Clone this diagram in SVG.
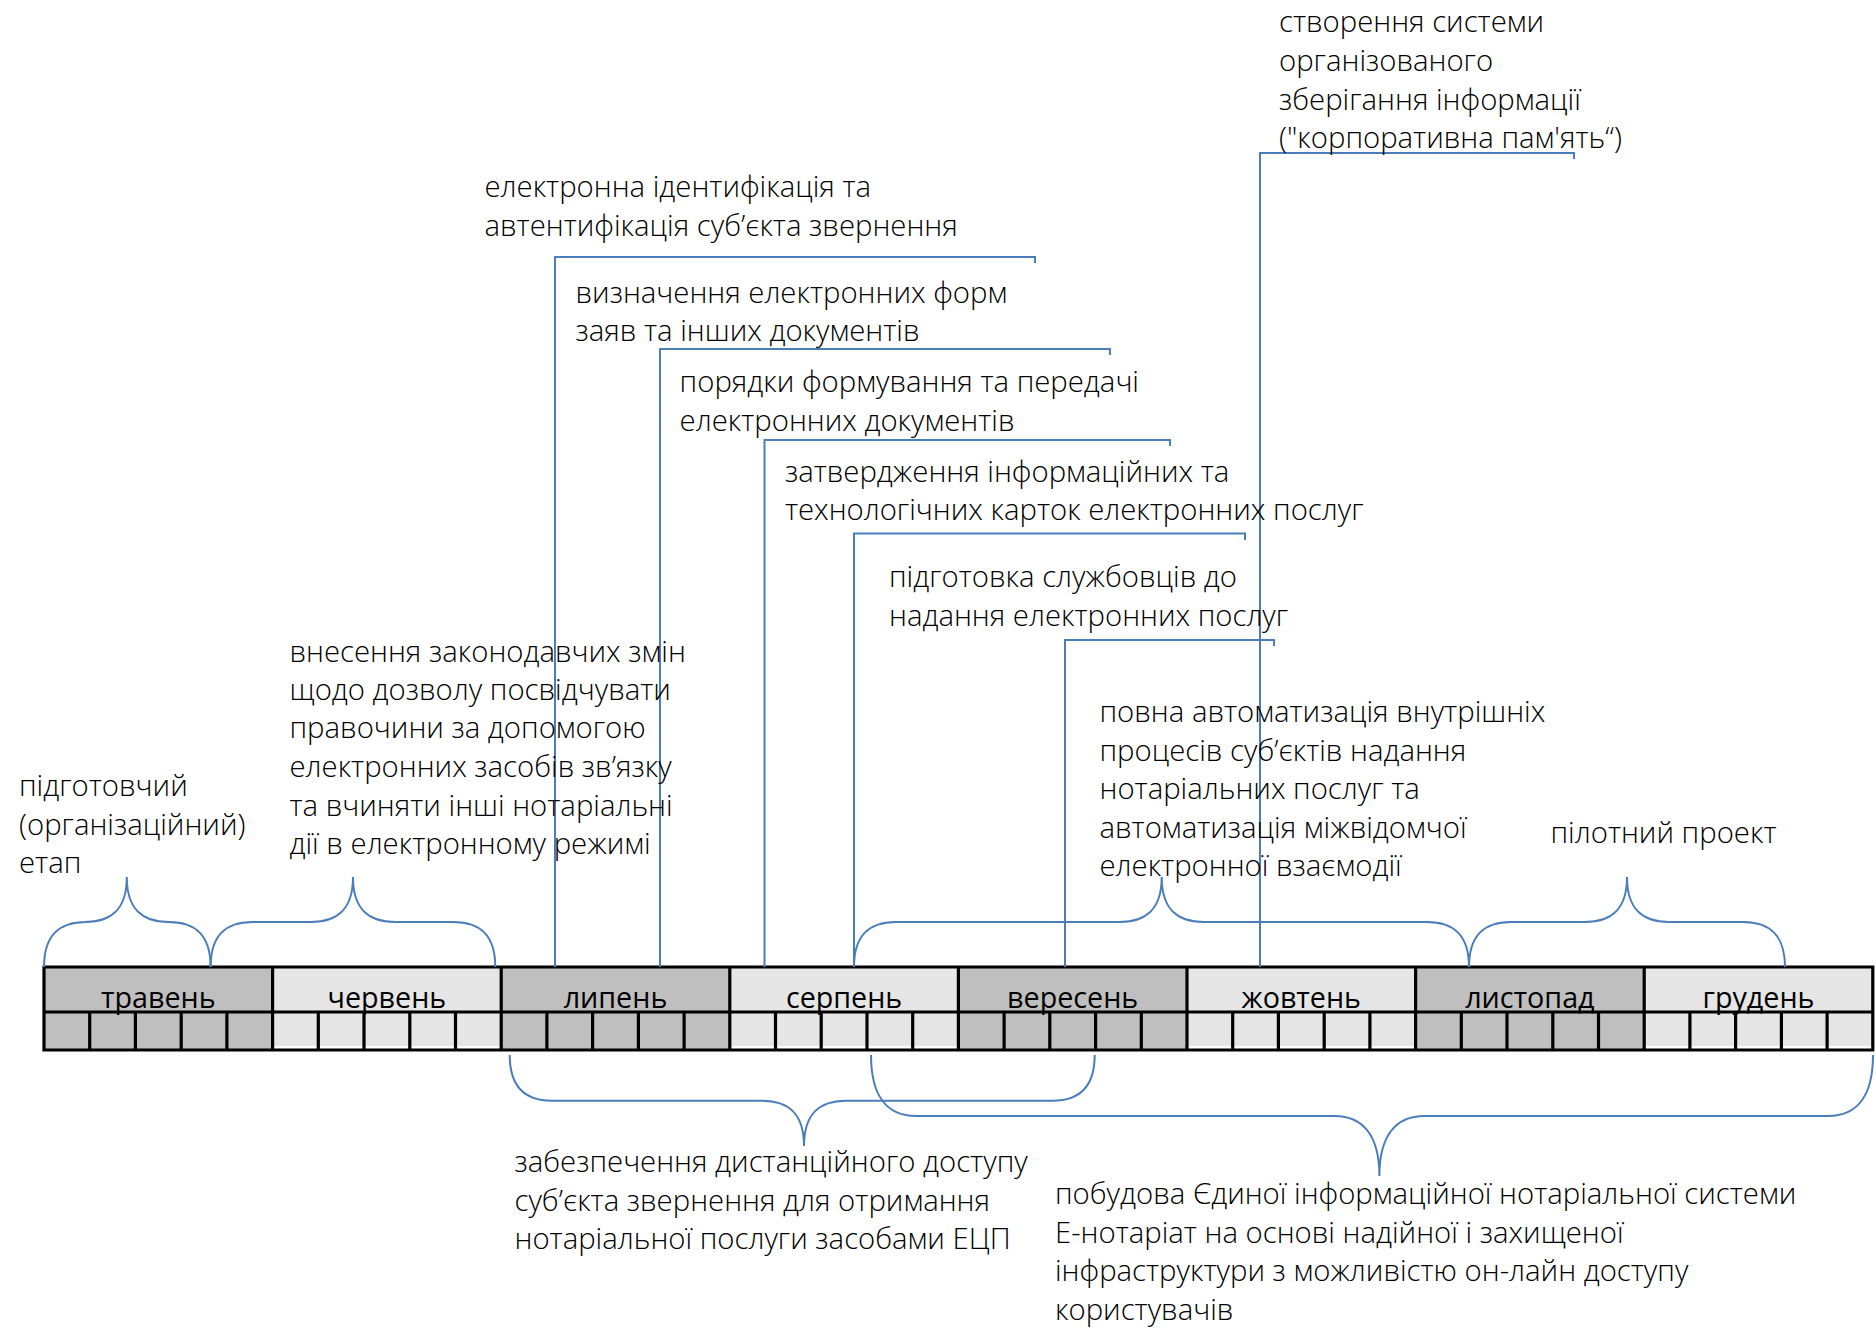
<svg xmlns="http://www.w3.org/2000/svg" width="1876" height="1329" viewBox="0 0 1876 1329">
<style>
.t{font-family:"Open Sans","Noto Sans","DejaVu Sans",sans-serif;font-size:29.3px;font-weight:300;fill:#000}
.m{font-family:"Open Sans","Noto Sans","DejaVu Sans",sans-serif;font-size:28.7px;font-weight:400;fill:#000;text-anchor:middle}
.b{fill:none;stroke:#4a7ebb;stroke-width:2}
.g{fill:none;stroke:#000;stroke-width:3.2}
.dk{fill:#bfbfbf}
.lt{fill:#e6e6e6}
</style>
<rect width="1876" height="1329" fill="#fff"/>
<g id="timeline">
<rect class="dk" x="44" y="967" width="228.6" height="83"/>
<rect class="lt" x="272.6" y="967" width="228.6" height="79"/>
<rect class="dk" x="501.2" y="967" width="228.6" height="83"/>
<rect class="lt" x="729.8" y="967" width="228.6" height="79"/>
<rect class="dk" x="958.4" y="967" width="228.6" height="83"/>
<rect class="lt" x="1187" y="967" width="228.6" height="79"/>
<rect class="dk" x="1415.6" y="967" width="228.6" height="83"/>
<rect class="lt" x="1644.2" y="967" width="228.6" height="79"/>
<text class="m" x="158.3" y="1008">травень</text>
<text class="m" x="386.9" y="1008">червень</text>
<text class="m" x="615.5" y="1008">липень</text>
<text class="m" x="844.1" y="1008">серпень</text>
<text class="m" x="1072.7" y="1008">вересень</text>
<text class="m" x="1301.3" y="1008">жовтень</text>
<text class="m" x="1529.9" y="1008">листопад</text>
<text class="m" x="1758.5" y="1008">грудень</text>
<path class="g" d="M44,967 H1872.8 V1050 H44 Z M44,1012 H1872.8"/>
<path class="g" d="M272.6,967V1050M501.2,967V1050M729.8,967V1050M958.4,967V1050M1187,967V1050M1415.6,967V1050M1644.2,967V1050"/>
<path class="g" d="M89.7,1012V1050M135.4,1012V1050M181.2,1012V1050M226.9,1012V1050M318.3,1012V1050M364,1012V1050M409.8,1012V1050M455.5,1012V1050M546.9,1012V1050M592.6,1012V1050M638.4,1012V1050M684.1,1012V1050M775.5,1012V1050M821.2,1012V1050M867,1012V1050M912.7,1012V1050M1004.1,1012V1050M1049.8,1012V1050M1095.6,1012V1050M1141.3,1012V1050M1232.7,1012V1050M1278.4,1012V1050M1324.2,1012V1050M1369.9,1012V1050M1461.3,1012V1050M1507,1012V1050M1552.8,1012V1050M1598.5,1012V1050M1689.9,1012V1050M1735.6,1012V1050M1781.4,1012V1050M1827.1,1012V1050"/>
</g>
<g id="connectors">
<path class="b" d="M555,967 V257 H1035 V263"/>
<path class="b" d="M660,967 V349 H1110 V355"/>
<path class="b" d="M764.5,967 V440 H1170 V446"/>
<path class="b" d="M854,967 V533.6 H1245 V540"/>
<path class="b" d="M1065,967 V640 H1274 V646"/>
<path class="b" d="M1260,967 V153 H1574 V159"/>
</g>
<g id="braces">
<path class="b" d="M44,967 C44,935 59,922 86,922 L85,922 C112,922 126.8,909 126.8,877 C126.8,909 141.8,922 168.8,922 C195.6,922 210.6,935 210.6,967"/>
<path class="b" d="M210.6,967 C210.6,935 225.6,922 252.6,922 L311,922 C338,922 353,909 353,877 C353,909 368,922 395,922 L453.3,922 C480.3,922 495.3,935 495.3,967"/>
<path class="b" d="M854,967 C854,935 869,922 896,922 L1119.7,922 C1146.7,922 1161.7,909 1161.7,877 C1161.7,909 1176.7,922 1203.7,922 L1427,922 C1454,922 1469,935 1469,967"/>
<path class="b" d="M1469,967 C1469,935 1484,922 1511,922 L1585,922 C1612,922 1627,909 1627,877 C1627,909 1642,922 1669,922 L1743,922 C1770,922 1785,935 1785,967"/>
<path class="b" d="M509.7,1055 C509.7,1087 524.7,1100.7 551.7,1100.7 L762,1100.7 C789,1100.7 804,1114 804,1146 C804,1114 819,1100.7 846,1100.7 L1052.7,1100.7 C1079.7,1100.7 1094.7,1087 1094.7,1055"/>
<path class="b" d="M871,1055 C871,1096 887,1116 916,1116 L1334.4,1116 C1363.4,1116 1379.4,1136 1379.4,1176 C1379.4,1136 1395.4,1116 1424.4,1116 L1828,1116 C1857,1116 1873,1096 1873,1055"/>
</g>
<g id="n-storage">
<text class="t" x="1279" y="32">створення системи</text>
<text class="t" x="1279" y="71">організованого</text>
<text class="t" x="1279" y="110">зберігання інформації</text>
<text class="t" x="1279" y="148">("корпоративна пам'ять“)</text>
</g>
<g id="n-ident">
<text class="t" x="484.5" y="197">електронна ідентифікація та</text>
<text class="t" x="484.5" y="236">автентифікація суб’єкта звернення</text>
</g>
<g id="n-forms">
<text class="t" x="575.5" y="303">визначення електронних форм</text>
<text class="t" x="575.5" y="341">заяв та інших документів</text>
</g>
<g id="n-order">
<text class="t" x="679.6" y="392">порядки формування та передачі</text>
<text class="t" x="679.6" y="431">електронних документів</text>
</g>
<g id="n-cards">
<text class="t" x="784.9" y="482">затвердження інформаційних та</text>
<text class="t" x="784.9" y="520">технологічних карток електронних послуг</text>
</g>
<g id="n-staff">
<text class="t" x="889" y="587">підготовка службовців до</text>
<text class="t" x="889" y="626">надання електронних послуг</text>
</g>
<g id="n-law">
<text class="t" x="289.5" y="662">внесення законодавчих змін</text>
<text class="t" x="289.5" y="700">щодо дозволу посвідчувати</text>
<text class="t" x="289.5" y="738">правочини за допомогою</text>
<text class="t" x="289.5" y="777">електронних засобів зв’язку</text>
<text class="t" x="289.5" y="816">та вчиняти інші нотаріальні</text>
<text class="t" x="289.5" y="854">дії в електронному режимі</text>
</g>
<g id="n-prep">
<text class="t" x="19" y="796">підготовчий</text>
<text class="t" x="19" y="835">(організаційний)</text>
<text class="t" x="19" y="873">етап</text>
</g>
<g id="n-auto">
<text class="t" x="1099.5" y="722">повна автоматизація внутрішніх</text>
<text class="t" x="1099.5" y="761">процесів суб’єктів надання</text>
<text class="t" x="1099.5" y="799">нотаріальних послуг та</text>
<text class="t" x="1099.5" y="838">автоматизація міжвідомчої</text>
<text class="t" x="1099.5" y="876">електронної взаємодії</text>
</g>
<g id="n-pilot">
<text class="t" x="1550.5" y="843">пілотний проект</text>
</g>
<g id="n-remote">
<text class="t" x="514.5" y="1172">забезпечення дистанційного доступу</text>
<text class="t" x="514.5" y="1211">суб’єкта звернення для отримання</text>
<text class="t" x="514.5" y="1249">нотаріальної послуги засобами ЕЦП</text>
</g>
<g id="n-system">
<text class="t" x="1055" y="1204">побудова Єдиної інформаційної нотаріальної системи</text>
<text class="t" x="1055" y="1243">Е-нотаріат на основі надійної і захищеної</text>
<text class="t" x="1055" y="1281">інфраструктури з можливістю он-лайн доступу</text>
<text class="t" x="1055" y="1320">користувачів</text>
</g>
</svg>
